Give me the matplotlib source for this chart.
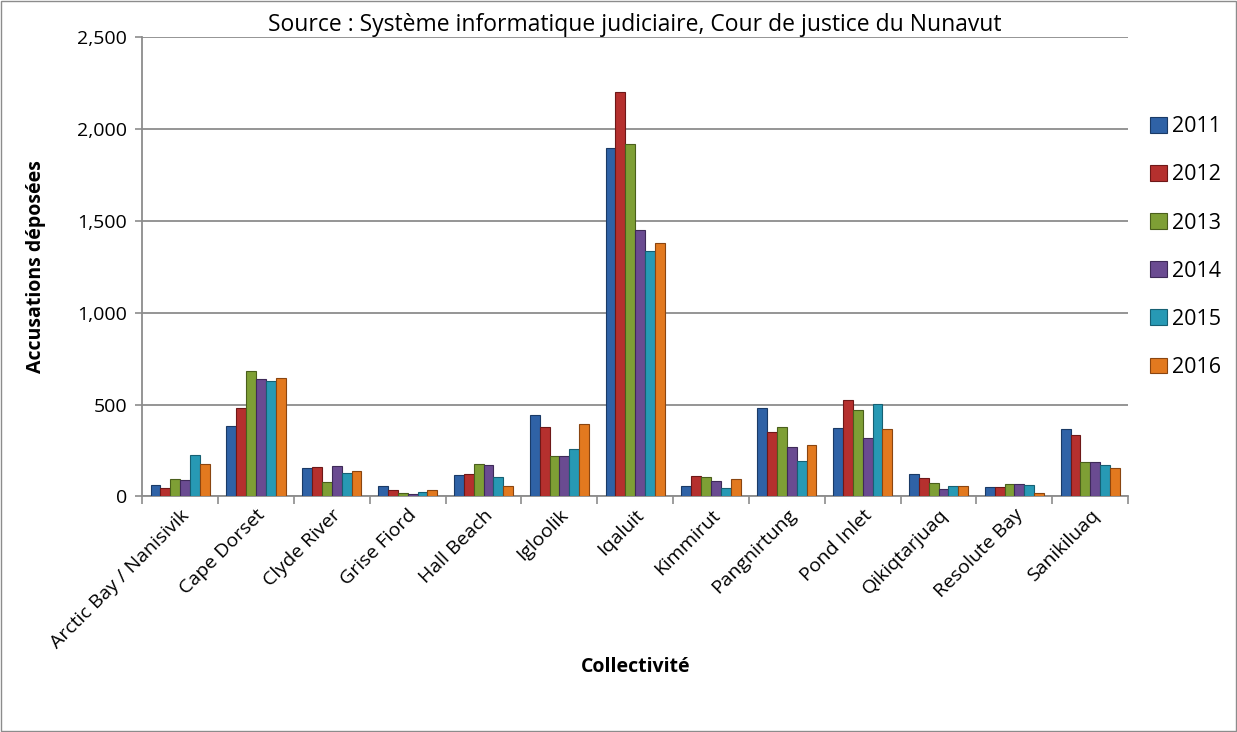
import numpy as np
import matplotlib.pyplot as plt
from matplotlib.patches import Rectangle

communities = ["Arctic Bay / Nanisivik", "Cape Dorset", "Clyde River", "Grise Fiord",
               "Hall Beach", "Igloolik", "Iqaluit", "Kimmirut", "Pangnirtung",
               "Pond Inlet", "Qikiqtarjuaq", "Resolute Bay", "Sanikiluaq"]
years = ["2011", "2012", "2013", "2014", "2015", "2016"]

v2011 = [63, 384, 156, 58, 118, 445, 1896, 58, 482, 373, 123, 53, 367]
v2012 = [43, 482, 161, 33, 123, 378, 2201, 112, 351, 525, 101, 53, 335]
v2013 = [92, 682, 80, 20, 177, 219, 1920, 104, 378, 471, 74, 69, 185]
v2014 = [87, 639, 167, 15, 172, 219, 1451, 85, 270, 319, 42, 69, 185]
v2015 = [226, 628, 129, 25, 107, 259, 1334, 43, 194, 503, 58, 63, 172]
v2016 = [177, 645, 140, 36, 58, 395, 1378, 92, 282, 367, 58, 20, 156]
series = [v2011, v2012, v2013, v2014, v2015, v2016]

colors = ["#2F62A6", "#B5302E", "#7E9F35", "#6A4B91", "#2799B4", "#E2791F"]
edges = ["#1A3A66", "#6E1818", "#4A5F1C", "#3E2A58", "#166073", "#8A4510"]

plt.rcParams['font.family'] = ['Open Sans', 'DejaVu Sans']

fig = plt.figure(figsize=(12.37, 7.32), dpi=100)
ax = fig.add_axes([0.115, 0.322, 0.797, 0.627])

x = np.arange(len(communities))
w = 0.13
for i, (vals, c, e) in enumerate(zip(series, colors, edges)):
    ax.bar(x + (i - 2.5) * w, vals, width=w, color=c, edgecolor=e,
           linewidth=0.8, label=years[i], zorder=3)

ax.set_xlim(-0.5, len(communities) - 0.5)
ax.set_ylim(0, 2500)
ax.set_yticks(np.arange(0, 2501, 500))
ax.set_yticklabels([f"{v:,}" for v in range(0, 2501, 500)], fontsize=14)
ax.yaxis.grid(True, color="#8C8C8C", linewidth=1.3, zorder=0)
ax.set_axisbelow(True)

ax.set_xticks(x)
ax.set_xticklabels(communities, rotation=45, ha="right", rotation_mode="anchor", fontsize=14)
ax.tick_params(axis="x", length=0, pad=7)
ax.set_xticks(np.arange(-0.5, len(communities), 1), minor=True)
ax.tick_params(axis="x", which="minor", length=6, color="#8C8C8C", width=1.2)
ax.tick_params(axis="y", length=5, color="#8C8C8C", width=1.2, pad=6)

for s in ["top", "right"]:
    ax.spines[s].set_visible(False)
for s in ["left", "bottom"]:
    ax.spines[s].set_color("#8C8C8C")
    ax.spines[s].set_linewidth(1.3)

ax.set_ylabel("Accusations déposées", fontsize=14, fontweight="bold", labelpad=22)
ax.set_xlabel("Collectivité", fontsize=14, fontweight="bold", labelpad=4)
ax.set_title("Source : Système informatique judiciaire, Cour de justice du Nunavut",
             fontsize=16.5, pad=1)

leg = ax.legend(loc="upper left", bbox_to_anchor=(1.003, 0.87), frameon=False,
                fontsize=15.5, labelspacing=1.26, handlelength=0.75, handleheight=0.75,
                handletextpad=0.25)

fig.patches.append(Rectangle((0.001, 0.001), 0.998, 0.998, transform=fig.transFigure,
                             fill=False, edgecolor="#8C8C8C", linewidth=1))

fig.savefig("out.png", dpi=100)
